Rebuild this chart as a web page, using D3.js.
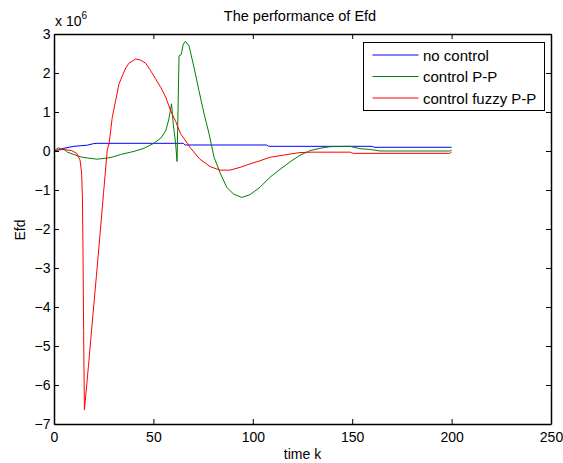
<!DOCTYPE html>
<html>
<head>
<meta charset="utf-8">
<script src="https://cdn.jsdelivr.net/npm/d3@7"></script>
<style>
  html, body { margin: 0; padding: 0; background: #fff; }
  svg { display: block; }
  text { font-family: "Liberation Sans", Arial, sans-serif; fill: #000; }
</style>
</head>
<body>
<svg id="chart" width="563" height="463"></svg>
<script>
// ---- data (values in units of 10^6) ----
const xTicks = [0, 50, 100, 150, 200, 250];
const yTicks = [-7, -6, -5, -4, -3, -2, -1, 0, 1, 2, 3];
const seriesNames = ["no control", "control P-P", "control fuzzy P-P"];
const seriesColors = ["#0000ff", "#008000", "#ff0000"];

const kNoControl = [0, 2.5, 5, 10, 16.8, 20, 22, 65, 66, 107, 108, 160, 161, 200];
const noControl  = [0, 0.03, 0.07, 0.12, 0.15, 0.19, 0.197, 0.197, 0.154, 0.154, 0.12, 0.12, 0.095, 0.095];

const kPP = [0, 1.5, 2.2, 3.9, 5.5, 6.7, 10, 13.4, 16.8, 21.8, 26.8, 29.8, 33.5, 40.2, 45.3, 50.3, 53.7, 56.2, 57.8, 59.1,
             60, 61.2, 61.9, 62.9, 64, 65, 66.1, 67.9, 70.4, 72.9, 75.5, 78, 80.5, 83.8, 86.9, 90.2, 94.4, 98.6,
             103.6, 108.7, 113.7, 118.7, 123.7, 128.8, 133.8, 138.8, 148.9, 153.9, 159, 164, 199, 200];
const valPP = [0, 0.06, 0.08, 0.05, 0.03, -0.03, -0.09, -0.15, -0.18, -0.21, -0.18, -0.15, -0.09, -0.01, 0.07, 0.2, 0.33, 0.52, 0.82, 1.21,
               0.69, 0.18, -0.27, 2.44, 2.47, 2.74, 2.81, 2.7, 2.15, 1.55, 0.95, 0.44, -0.16, -0.59, -0.93, -1.1, -1.19, -1.12,
               -0.93, -0.67, -0.47, -0.28, -0.11, 0.01, 0.07, 0.11, 0.12, 0.06, 0.04, 0.0, 0.0, 0.02];

const kFuzzy = [0, 2.5, 4.7, 8.9, 11.4, 13.1, 13.9, 14.3, 14.6, 14.9, 15.3, 17.3, 19.5, 21.3, 23.2, 24.9, 26.8,
                27.7, 29.3, 31, 32.7, 34.4, 36.1, 37.7, 41.1, 43.6, 46.1, 48.6, 51.1, 53.7, 56.2, 58.7, 61.2, 63.7,
                67.1, 68.4, 73.4, 78.5, 83.5, 88.5, 93.6, 98.6, 103.6, 108.7, 113.7, 118.7, 123.7, 130, 149, 150.6, 199, 200];
const valFuzzy = [0, 0.03, 0.04, 0.01, -0.06, -0.23, -0.57, -1.2, -2.6, -4.6, -6.64, -5.53, -4.25, -3.22, -2.11, -1.09, 0.03,
                  0.18, 0.86, 1.29, 1.72, 1.93, 2.13, 2.25, 2.36, 2.33, 2.25, 2.06, 1.85, 1.63, 1.38, 1.03, 0.76, 0.44,
                  0.2, 0.09, -0.21, -0.4, -0.49, -0.49, -0.42, -0.33, -0.25, -0.16, -0.12, -0.08, -0.04, -0.03, -0.03, -0.06, -0.06, -0.03];

const titleText = "The performance of Efd";
const xLabel = "time k";
const yLabel = "Efd";

// ---- layout ----
const svg = d3.select("#chart");
const L = 54, R = 551, T = 34, B = 424;

const x = d3.scaleLinear().domain([0, 250]).range([L, R]);
const y = d3.scaleLinear().domain([-7, 3]).range([B, T]);

const font = 14;

// series
const series = [
  { k: kNoControl, v: noControl },
  { k: kPP, v: valPP },
  { k: kFuzzy, v: valFuzzy }
];
const line = d3.line().x(d => x(d[0])).y(d => y(d[1]));
series.forEach((s, i) => {
  const pts = s.k.map((k, j) => [k, s.v[j]]);
  svg.append("path")
    .attr("d", line(pts))
    .attr("fill", "none")
    .attr("stroke", seriesColors[i])
    .attr("stroke-width", 1)
    .attr("stroke-linejoin", "round");
});

// axes
const styleAxis = g => {
  g.select(".domain").attr("stroke", "#000").attr("stroke-width", 1.5);
  g.selectAll(".tick line").attr("stroke", "#000").attr("stroke-width", 1);
  g.selectAll("text").attr("font-size", font).attr("font-family", '"Liberation Sans", Arial, sans-serif').attr("fill", "#000");
};

svg.append("g").attr("transform", `translate(0,${B})`)
  .call(d3.axisBottom(x).tickValues(xTicks).tickSize(-5).tickSizeOuter(0).tickPadding(8.5))
  .call(styleAxis);
svg.append("g").attr("transform", `translate(${L},0)`)
  .call(d3.axisLeft(y).tickValues(yTicks).tickSize(-5).tickSizeOuter(0).tickPadding(3.5))
  .call(styleAxis);
svg.append("g").attr("transform", `translate(0,${T})`)
  .call(d3.axisTop(x).tickValues(xTicks).tickSize(-5).tickSizeOuter(0).tickFormat(""))
  .call(styleAxis);
svg.append("g").attr("transform", `translate(${R},0)`)
  .call(d3.axisRight(y).tickValues(yTicks).tickSize(-5).tickSizeOuter(0).tickFormat(""))
  .call(styleAxis);

// title & labels
svg.append("text").attr("x", 300).attr("y", 21).attr("text-anchor", "middle")
  .attr("font-size", 14.5).text(titleText);
svg.append("text").attr("x", (L + R) / 2).attr("y", 459).attr("text-anchor", "middle")
  .attr("font-size", font).text(xLabel);
svg.append("text").attr("transform", `translate(25,${(T + B) / 2 + 1}) rotate(-90)`).attr("text-anchor", "middle")
  .attr("font-size", font).text(yLabel);

// exponent
const ex = svg.append("text").attr("x", 55).attr("y", 26).attr("font-size", font);
ex.append("tspan").text("x 10");
ex.append("tspan").attr("dy", -7.5).attr("font-size", 10).text("6");

// legend
const lg = svg.append("g");
lg.append("rect").attr("x", 363.5).attr("y", 42.5).attr("width", 181).attr("height", 68)
  .attr("fill", "#fff").attr("stroke", "#000").attr("stroke-width", 1);
const rowY = [55, 76.5, 98];
seriesNames.forEach((n, i) => {
  lg.append("line").attr("x1", 372.5).attr("x2", 418.5).attr("y1", rowY[i]).attr("y2", rowY[i])
    .attr("stroke", seriesColors[i]).attr("stroke-width", 1);
  lg.append("text").attr("x", 423).attr("y", rowY[i] + 5.5).attr("font-size", 15).text(n);
});
</script>
</body>
</html>
